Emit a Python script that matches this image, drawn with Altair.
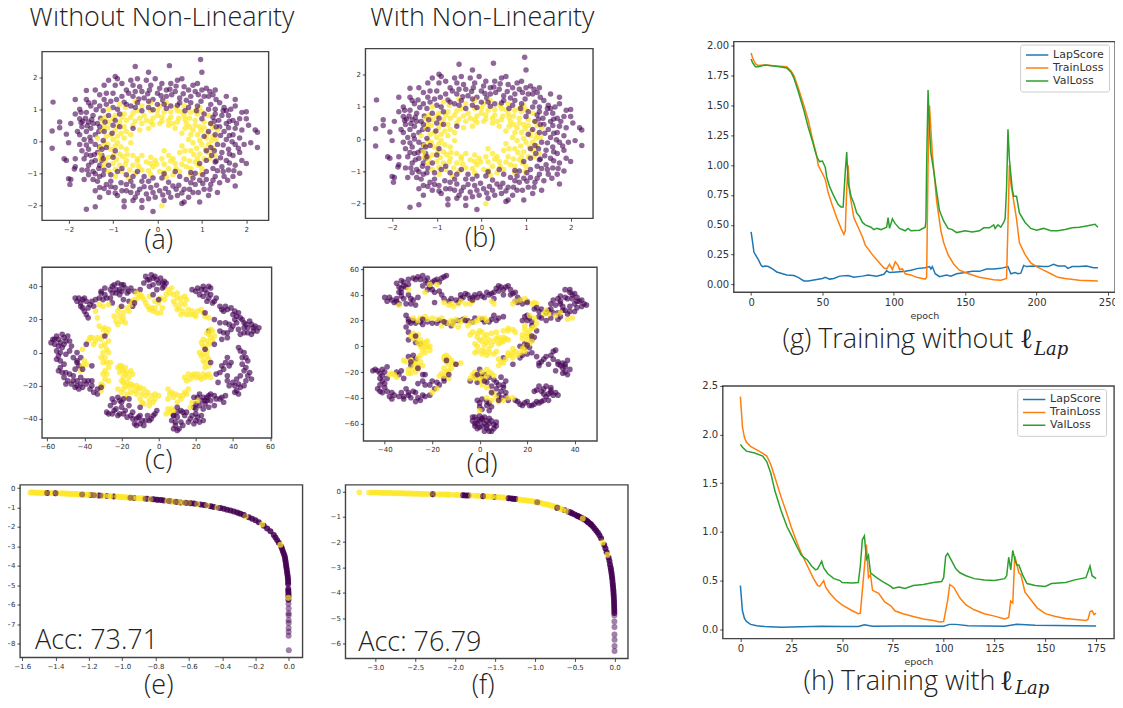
import altair as alt
import pandas as pd

PURPLE = "#440154"
YELLOW = "#fde725"
BLUE, ORANGE, GREEN = "#1f77b4", "#ff7f0e", "#2ca02c"
CAPTION_FONT = "Open Sans"

# ---------- (a)/(b) input data ----------
ab_purple = [(-2.35,1.22),(-2.2,.6),(-2.2,.42),(-2.37,.32),(-2.37,-.22),(-1.95,.55),(-2.05,.22),(-2,-.05),(-2.1,-.55),(-2.05,-.6),(-2,-1.17),(-1.95,-1.2),(-1.97,-1.35),(-1.85,-.8),(-1.87,-.87),(-1.85,-.55),(-1.6,-2.13),(-1.4,-2.05),(-1.3,-1.75),(-.75,-2.05),(-.35,-2.07),(-.1,-2.2),(.6,-1.9),(-.75,-1.87),(-.5,2.33),(-.2,2.15),(.27,2.36),(.97,2.55),(1,2.15),(2.25,-.2),(2.2,.35),(2.25,.28),(2.05,.5),(2,.7),(2,.92),(1.75,1.3),(1.55,1.4),(1.3,1.6),(1.9,.9),(-1.6,1.58),(-1.85,1.3),(-1.6,1.3),(-1.75,1),(-.95,2.02),(-1.1,1.9),(-1.2,1.75),
(-.9,1.95),(-.95,1.75),(-.8,1.8),(-.7,1.6),(-.6,1.9),(-.55,1.75),(-.45,1.95),(-.4,1.7),(-.35,1.55),(-.25,1.9),(-.15,1.75),(-.05,1.95),(.05,1.65),(0,1.5),(.1,1.8),(.2,1.6),(.3,1.8),(.4,1.55),(.45,1.9),(.55,1.95),(.6,1.7),(.7,1.6),(.8,1.75),(.85,1.55),(.9,1.8),(1,1.6),(1.1,1.65),(1.15,1.4),(1.25,1.45),(1.05,1.4),(.75,1.4),(.5,1.35),(.2,1.4),(-.1,1.3),(-.3,1.35),(-.55,1.4),(-.8,1.4),(-1,1.5),(-1.15,1.5),(-1.2,1.3),(-1.05,1.25),(-1.3,1.45),(-1.4,1.6),(-1.3,1.1),
(-1.85,.85),(-1.75,.7),(-1.6,.9),(-1.5,1.1),(-1.45,.8),(-1.55,.6),(-1.7,.45),(-1.6,.3),(-1.75,.2),(-1.5,.4),(-1.35,.55),(-1.4,.2),(-1.65,.05),(-1.5,0),(-1.75,-.1),(-1.4,-.1),(-1.55,-.25),(-1.7,-.3),(-1.35,-.35),(-1.5,-.45),(-1.65,-.55),(-1.4,-.6),(-1.55,-.75),(-1.3,-.75),(-1.45,-.95),(-1.7,-.9),(-1.2,-.9),(-1.55,-1.05),(-1.65,-1.2),(-1.3,-1.1),(-1.45,-1.2),
(-1.4,-1.55),(-1.3,-1.45),(-1.15,-1.35),(-1.1,-1.6),(-.95,-1.45),(-1.05,-1.25),(-.9,-1.7),(-.8,-1.55),(-.7,-1.35),(-.6,-1.6),(-.5,-1.75),(-.4,-1.5),(-.35,-1.85),(-.25,-1.65),(-.15,-1.45),(-.05,-1.75),(.05,-1.55),(.15,-1.85),(.25,-1.6),(.35,-1.4),(.45,-1.7),(.55,-1.95),(.6,-1.5),(.7,-1.75),(.8,-1.6),(.85,-1.35),(.95,-1.9),(1.05,-1.5),(1.15,-1.7),(1.2,-1.35),(1.35,-1.6),(1.4,-1.3),(1.5,-1.1),(1.3,-1.1),(1.1,-1.2),(1.25,-.85),(1.45,-.8),
(1.75,-1.4),(1.85,-1),(1.7,-1.1),(1.6,-.9),(1.75,-.75),(1.9,-.6),(2,-.7),(1.55,-.6),(1.7,-.45),(1.85,-.35),(1.95,-.1),(2.1,-.05),(1.6,-.25),(1.45,-.35),(1.75,-.1),(1.55,.05),(1.85,.1),(1.7,.2),(1.5,.3),(1.9,.35),(1.75,.4),(1.55,.55),(1.4,.45),(1.7,.65),(1.85,.7),(1.6,.8),(1.45,.8),(1.3,.85),(1.65,1),(1.5,1.05),(1.4,1.2),(1.3,1),(1.2,1.15),(1.75,1.1),
(-1.8,.3),(-1.72,.58),(-1.62,.72),(-1.48,.68),(-1.38,.98),(-1.22,.95),(-1.28,.72),(-1.15,1.15),(-1,1.05),(-.92,1.3),(-.75,1.22),(-.65,1.5),(-.5,1.55),(-.42,1.32),(-.22,1.48),(-.18,1.6),(.08,1.42),(.12,1.28),(.32,1.45),(.28,1.62),(.42,1.72),(.58,1.48),(.65,1.28),(.92,1.45),(.98,1.25),(1.18,1.55),(1.32,1.3),(1.48,.95),(1.55,.95),(1.62,.62),(1.38,.65),(1.28,.62),(1.6,.42),(1.78,.55),(1.62,.18),(1.42,.18),(1.68,-.02),(1.48,-.12),(1.82,-.22),(1.62,-.4),(1.42,-.52),(1.32,-.62),(1.62,-.68),(1.48,-.95),(1.35,-.92),(1.72,-.92),(1.58,-1.22),(1.25,-1.22),(1.18,-1.5),(1.02,-1.32),(.92,-1.6),(.95,-1.22),(.75,-1.3),(.72,-1.5),(.55,-1.62),(.48,-1.38),(.42,-1.5),(.3,-1.75),(.18,-1.48),(.12,-1.68),(-.02,-1.38),(-.1,-1.6),(-.2,-1.8),(-.3,-1.42),(-.45,-1.62),(-.55,-1.4),(-.55,-1.85),(-.7,-1.55),(-.82,-1.3),(-.95,-1.62),(-1.05,-1.42),(-1.2,-1.48),(-1.35,-1.25),(-1.22,-1.05),(-1.4,-1.02),(-1.58,-.9),(-1.32,-.85),(-1.48,-.65),(-1.25,-.6),(-1.6,-.42),(-1.42,-.42),(-1.25,-.45),(-1.6,-.12),(-1.3,-.18),(-1.52,.12),(-1.32,.3),(-1.58,.48),(-1.45,.55),(-1.68,.62),(-1.42,1.22),(-1.55,1.2),(-1.72,.9)]
ab_yellow = [(-1.35,.1),(-1.25,.65),(-1.1,.6),(-1.05,.2),(-.95,.35),(-.85,.6),(-.75,.85),(-.6,.75),(-.45,.95),(-.3,.8),(-.15,.95),(0,.8),(.15,.9),(.3,.75),(.45,.95),(.6,.8),(.75,.9),(.9,.85),(1.05,.6),(.95,.45),(1.2,.55),(1.25,.15),(1.1,.1),(.9,.2),(1,-.1),(.8,-.05),(1.15,-.35),(.95,-.4),(.75,-.3),(.6,-.55),(.85,-.65),(.65,-.8),(.4,-.7),(.5,-.95),(.25,-.85),(.1,-.55),(.05,-.95),(-.1,-.8),(-.25,-.65),(-.35,-.9),(-.55,-.75),(-.7,-.6),(-.85,-.75),(-1,-.7),(-.85,-.4),(-.7,-.25),(-1.05,-.25),(-.9,-.05),(-.75,.1),(-.6,.2),(-1.2,-.05),(-1.1,-.5),(-.55,.5),(-.35,.55),(-.15,.6),(.05,.55),(.25,.5),(.45,.6),(.65,.55),(.8,.35),(.55,.25),(.7,.05),(.55,-.15),(.5,-.35),(.25,-.45),(-.05,-.6),(.15,-.3),(-.35,-.45),(-.55,-.45),(-.6,-.05),(-.4,.35),(.1,.75),(-.2,.4),(.4,.4),(-.75,.45),(-.95,.8),(.85,.65),(.35,-1.05),(-.15,-1.05),(-.5,-1),(-.8,-.95),(-1.1,-.95),(.75,-1.05),(1,-.85),(1.3,-.45),(1.35,.35),(1.15,.8),(.95,1.05),(.6,1.1),(.2,1.2),(-.15,1.2),(-.5,1.25),(-.85,1.15),(-1.1,1),(-1.25,.35),(-1.3,-.4),(-1.2,-.75),(.1,-2.02),
(-1.2,.45),(-1.15,.15),(-1.28,-.2),(-1.12,-.1),(-1,.05),(-.95,-.15),(-.98,-.42),(-1.18,-.6),(-.92,-.58),(-.78,-.48),(-.72,-.72),(-.95,-.88),(-.62,-.9),(-.45,-.62),(-.42,-.78),(-.2,-.92),(-.15,-.7),(-.02,-.72),(.15,-.72),(.15,-.98),(.3,-.62),(.42,-.85),(.55,-.72),(.72,-.62),(.75,-.85),(.92,-.75),(1.05,-.55),(.9,-.55),(.82,-.42),(1.08,-.25),(.88,-.22),(.95,.02),(1.15,-.1),(1.22,.02),(1.12,.25),(.98,.32),(1.05,.42),(.85,.5),(.72,.45),(.72,.72),(.85,.95),(.62,.68),(.55,.92),(.48,.72),(.3,.92),(.25,.65),(.1,.62),(0,.95),(-.1,.72),(-.25,.65),(-.4,.72),(-.5,.62),(-.55,.88),(-.7,.65),(-.8,.75),(-.9,.48),(-1,.7),(-1.12,.42),(-1.18,.75),(-.82,.25),(-.7,.3),(-.9,.15),(-.82,-.18),(-.68,-.42),(.62,.4),(.35,.55),(-.1,.52),(.75,.2),(.62,-.3),(.35,-.55),(-.15,-.5),(-.45,-.55),(.42,1.05),(.05,1.08),(-.35,1.1),(-.72,1.05),(1,.92),(1.25,.42),(1.32,.05),(1.25,-.22),(1.18,-.55),(.98,-1.02),(.2,-1.12),(-.65,-1.15),(-.95,-1.1),(-1.28,-.55)]
ab_purple_top = [(-1.1,.8),(-1,.5),(-1.2,.3),(-1.15,-.2),(-1,-.5),(-.9,-.95),(-.7,-1.05),(-.3,-1.1),(.1,-1.15),(.5,-1.1),(.85,-1),(1.1,-.6),(1.2,-.2),(1.15,.3),(1,.7),(.7,1.05),(.3,1.1),(-.2,1.05),(-.6,1.1),(-.9,1),(-.55,.4),(-.45,1.2),(0,1.15),(.5,1.2),(.9,1.1),(1.25,.75),(1.3,.2),(1.28,-.3),(1.1,-.95),(.65,-1.2),(.25,-1.28),(-.2,-1.25),(-.6,-1.25),(-1.05,-1.05),(-1.25,-.25),(-1.3,.45),
(-1.18,.6),(-.85,.85),(-.7,1.15),(-.35,.95),(-.1,.98),(.2,1.02),(.45,1.12),(.62,.95),(.88,.95),(1.05,.85),(1.2,.55),(1.32,.45),(1.05,.15),(1.35,-.1),(1.1,-.3),(1.22,-.45),(.95,-.7),(1.02,-1.05),(.75,-.98),(.4,-.95),(.15,-1.02),(-.1,-1.15),(-.45,-.95),(-.55,-1.1),(-.8,-.85),(-1.1,-.75),(-1.22,-.55),(-.95,-.3),(-1.22,.02),(-1.02,.25),(-.85,.45),(-.95,.65),(-.5,1.05),(-.2,1.25),(.15,1.15),(.75,1.2),(1.15,1),(1.3,-.65),(.8,-1.15),(-.35,-1.25)]

# ---------- (c) ----------
c_purple = [(-57,8),(-55,10),(-52,11),(-49,10),(-56,5),(-53,6),(-50,7),(-47,4),(-55,1),(-52,3),(-54,-2),(-50,-1),(-53,-5),(-53,-9),(-52,-12),(-51,-15),(-49,-17),(-47,-19),(-45,-21),(-43,-22),(-41,-21),(-39,-19),(-37,-22),(-35,-24),(-44,0),(-42,-3),(-44,-5),(-45,-10),(-42,-15),(-40,-17),(-46,-14),(-48,-13),
(-43,33),(-44,31),(-41,32),(-42,28),(-39,31),(-37,29),(-40,25),(-39,23),(-38,21),(-35,28),(-32,33),(-31,36),(-28,33),(-31,37),(-29,39),(-23,38),(-24,41),(-22,42),(-20,41),(-18,39),(-23,36),(-21,35),(-19,32),(-16,31),(-14,28),(-15,39),(-13,37),(-25,30),
(-10,38),(-8,42),(-7,46),(-5,44),(-3,45),(-1,44),(1,45),(3,43),(-3,41),(-1,38),(2,39),(4,42),
(18,38),(21,39),(24,40),(27,40),(26,36),(22,35),(28,35),(31,33),(29,30),(26,31),(33,28),(36,28),(35,25),(39,27),(40,23),(42,22),(44,21),(46,18),(42,18),(46,15),(48,15),(50,17),(52,16),(54,15),(51,13),(48,12),(43,14),(44,11),(36,18),(40,16),(37,12),(37,9),(33,18),(34,8),(27,13),(30,20),
(43,3),(46,0),(47,-3),(45,-7),(47,-9),(49,-12),(50,-16),(46,-20),(43,-19),(42,-16),(40,-18),(44,-14),(42,-23),(43,-25),(35,-10),(33,-12),(38,-8),(36,-6),(32,-18),(37,-3),(38,-20),(37,-17),
(36,-26),(33,-28),(30,-26),(26,-27),(22,-25),(23,-29),(25,-31),(27,-33),(30,-32),(20,-31),(35,-30),(24,-34),(20,-34),
(21,-39),(22,-42),(20,-37),(19,-43),(24,-41),(17,-40),(15,-36),(12,-35),(10,-39),(7,-41),(9,-44),(11,-46),(10,-47),(12,-42),(14,-38),
(-28,-36),(-25,-37),(-22,-38),(-19,-37),(-15,-38),(-12,-40),(-13,-43),(-10,-43),(-8,-44),(-5,-41),(-6,-38),(-3,-38),(-1,-35),(-18,-35),(-23,-34),(-24,-30),(-25,-28),(-22,-27),(-20,-30),(-16,-32),(-10,-38),
(-56,8),(-54,8),(-51,9),(-48,7),(-58,6),(-54,4),(-51,5),(-48,1),(-53,0),(-55,-4),(-51,-7),(-54,-11),(-50,-12),(-50,-19),(-46,-17),(-44,-17),(-44,-20),(-42,-19),(-38,-17),(-36,-20),(-33,-25),(-43,-8),(-46,-3),
(-45,33),(-42,30),(-40,33),(-38,27),(-41,27),(-36,31),(-34,32),(-30,32),(-29,35),(-26,38),(-25,36),(-25,40),(-21,38),(-20,37),(-17,36),(-19,41),(-16,37),
(-6,44),(-4,47),(-2,46),(0,42),(2,42),(3,40),(-5,40),
(20,37),(23,38),(25,38),(28,39),(24,34),(27,33),(30,31),(34,26),(37,26),(41,25),(43,24),(45,20),(47,17),(49,19),(51,15),(53,13),(50,11),(46,12),(41,20),(39,14),(35,12),(38,17),
(44,1),(45,-3),(48,-5),(46,-11),(48,-14),(47,-17),(44,-21),(41,-20),(41,-24),(37,-14),(34,-8),(31,-13),(39,-6),
(34,-27),(31,-28),(28,-29),(24,-27),(21,-27),(22,-32),(26,-29),(19,-33),(28,-25),
(20,-41),(23,-38),(18,-38),(16,-42),(13,-36),(10,-36),(8,-38),(9,-42),(13,-44),(8,-46),
(-27,-37),(-24,-35),(-21,-37),(-17,-39),(-14,-36),(-11,-39),(-12,-44),(-9,-41),(-7,-41),(-4,-40),(-2,-37),(-20,-33),(-26,-32),(-21,-29),(-14,-40)]
c_yellow = [(-32,16),(-29,15),(-28,12),(-31,8),(-29,5),(-28,2),(-30,0),(-29,-3),(-28,-6),(-27,-9),(-28,-13),(-29,-16),(-30,-20),(-31,-23),(-38,7),(-36,9),(-33,9),(-35,5),(-41,-8),(-40,-5),(-42,-11),(-41,2),
(-22,-9),(-20,-8),(-18,-9),(-21,-12),(-17,-12),(-15,-11),(-19,-15),(-16,-15),(-20,-17),(-18,-20),(-16,-21),(-14,-20),(-12,-20),(-10,-21),(-8,-22),(-15,-24),(-12,-25),(-9,-25),(-6,-24),(-4,-26),(-2,-25),(0,-26),(-10,-28),(-8,-31),(-5,-32),(-3,-30),(-22,-22),(-20,-24),(-18,-27),
(5,-22),(7,-24),(8,-27),(5,-28),(10,-30),(12,-28),(14,-24),(16,-22),(6,-36),(4,-37),(8,-35),
(14,-15),(16,-13),(18,-14),(20,-15),(22,-15),(24,-13),(26,-14),(28,-15),(25,-6),(27,-4),(24,-1),(26,1),(24,4),(23,6),(26,7),(28,9),(30,10),(26,12),(28,14),(27,-8),(23,-2),(18,-30),(21,-29),(17,-33),
(-22,25),(-21,22),(-20,19),(-22,17),(-24,22),(-19,24),(-17,27),(-15,29),(-13,32),(-11,33),(-8,32),(-5,34),(-6,28),(-4,27),(-3,25),(-1,24),(1,24),(2,27),(0,30),(3,32),(5,38),(7,39),(8,35),(10,33),(12,33),(9,29),(11,27),(14,29),(13,25),(15,23),(17,23),(19,23),(21,25),(23,26),(25,22),(27,21),(15,32),(-34,25),(-30,28),(-27,29),(-10,35),(-33,21),
(-30,14),(-27,14),(-30,10),(-27,7),(-31,4),(-27,0),(-31,-3),(-30,-6),(-26,-6),(-29,-11),(-30,-13),(-27,-17),(-31,-19),(-37,9),(-34,7),(-39,-7),
(-21,-8),(-19,-11),(-20,-10),(-18,-13),(-14,-13),(-17,-18),(-19,-18),(-15,-19),(-11,-22),(-13,-23),(-7,-26),(-5,-29),(-9,-30),(-2,-28),(-17,-25),(-19,-22),
(6,-25),(9,-25),(11,-26),(13,-26),(15,-25),(7,-34),(5,-34),
(15,-17),(17,-16),(19,-13),(21,-13),(23,-16),(25,-15),(27,-13),(24,-5),(26,-2),(25,3),(22,0),(27,5),(24,8),(29,7),(27,11),(29,13),(25,-9),
(-21,27),(-23,19),(-19,21),(-18,18),(-16,25),(-14,31),(-9,34),(-7,30),(-5,26),(-2,27),(-2,31),(1,33),(4,35),(6,36),(10,36),(8,31),(12,30),(10,26),(12,23),(16,26),(18,25),(20,22),(24,24),(14,34),(-32,29),(-12,36)]
c_purple_top = [(-44,-6),(-41,-10),(-36,-17),(-33,-22),(-31,-21),(-29,10),(-39,5),(-26,33),(-20,28),(-13,30),(-3,35),(0,32),(-19,-28),(-10,-33),(-16,-28),(25,-29),(27,-26),(19,-27),(10,-33),(8,-38),(25,2),(28,-6),(30,5),(33,13),(25,24),(-36,-8)]

# ---------- (d) ----------
d_purple = [(-40,38),(-38,38),(-39,35),(-36,34),(-34,33),(-35,37),(-34,42),(-33,45),(-35,49),(-32,50),(-30,52),(-31,46),(-33,39),(-30,40),(-31,33),(-28,36),(-27,32),(-26,38),(-26,54),(-24,55),(-22,53),(-20,50),(-21,46),(-18,52),(-16,53),(-14,55),(-22,44),(-19,42),(-16,40),(-27,52),
(-15,37),(-13,35),(-9,34),(-7,38),(-5,40),(-4,37),(-2,40),(0,41),(-8,40),(2,38),(4,40),(6,37),(6,42),(7,45),(9,46),(11,46),(13,44),(15,42),(13,40),(16,38),(10,40),(16,34),(20,35),(18,33),
(23,29),(26,29),(29,28),(31,26),(33,26),(31,36),(34,35),(32,32),(35,31),(36,38),(36,44),(38,42),(37,37),(39,40),(41,38),(42,35),(44,33),(43,31),(40,33),(38,31),(37,25),(35,28),(40,27),(33,21),(28,20),(25,23),(20,24),(18,20),
(-31,24),(-30,21),(-29,18),(-27,18),(-24,17),(-31,15),(-30,11),(-22,19),(-20,18),(-17,20),(-14,18),(-12,16),(-9,20),(-5,20),(-2,22),(1,21),(4,19),(7,20),(8,22),(6,24),
(-30,5),(-27,3),(-25,2),(-30,-8),(-28,-7),(-27,-10),(-29,-15),(-24,-22),
(20,-6),(17,-9),(24,-8),(25,-13),(25,-15),(27,-10),(30,-7),(32,-3),(29,-14),(33,-12),(34,-15),(35,-17),(36,-14),(37,-11),(36,-20),(37,-22),(32,-19),(20,20),(22,19),(24,12),(23,7),(19,2),(17,0),(21,-1),(14,-14),(10,-9),
(-45,-19),(-43,-19),(-41,-18),(-39,-16),(-41,-23),(-39,-25),(-41,-27),(-42,-30),(-40,-32),(-42,-35),(-39,-35),(-38,-39),(-36,-38),(-33,-36),(-30,-38),(-31,-33),(-28,-35),(-29,-40),(-26,-40),(-27,-36),(-25,-42),(-23,-39),(-21,-38),(-34,-22),(-32,-25),(-33,-19),(-24,-27),(-21,-30),(-18,-28),(-15,-27),(-15,-25),(-19,-33),
(-4,-27),(-2,-23),(0,-18),(2,-22),(3,-28),(5,-31),(6,-26),(9,-24),(8,-30),(11,-27),(9,-35),(8,-38),(11,-36),(12,-42),(11,-39),(-1,-42),(1,-41),(0,-47),(3,-46),(4,-44),(4,-50),
(-2,-55),(0,-54),(2,-55),(4,-56),(-3,-58),(-1,-60),(2,-60),(5,-58),(6,-61),(0,-63),(3,-64),(5,-66),(-2,-62),(6,-64),(1,-57),(3,-62),
(15,-42),(17,-45),(19,-44),(21,-46),(23,-45),(25,-44),(27,-42),(29,-42),(31,-38),(33,-38),(29,-37),(27,-33),(25,-31),(23,-35),(26,-35),(28,-31),(30,-34),
(-37,36),(-35,35),(-32,37),(-33,42),(-32,47),(-34,46),(-30,48),(-33,51),(-28,53),(-25,52),(-23,51),(-22,49),(-24,47),(-19,51),(-17,50),(-15,54),(-20,44),(-17,43),(-29,37),(-29,33),
(-12,37),(-8,37),(-6,41),(-3,38),(-1,38),(1,39),(3,42),(5,41),(8,43),(8,47),(12,47),(10,44),(14,41),(17,36),(15,35),
(25,27),(28,26),(30,29),(34,33),(30,33),(33,37),(34,39),(38,44),(39,37),(40,41),(41,35),(43,36),(45,32),(41,30),(36,28),(38,27),(34,23),(30,22),(21,22),(19,23),
(-30,19),(-28,20),(-25,19),(-18,18),(-11,19),(-7,21),(-3,19),(2,19),(5,21),(10,23),
(18,-7),(22,-5),(26,-12),(31,-10),(31,-4),(33,-14),(35,-13),(35,-21),(38,-18),(36,-16),(22,16),(22,5),(19,-1),
(-44,-18),(-42,-21),(-40,-20),(-42,-25),(-40,-29),(-43,-33),(-41,-36),(-37,-36),(-37,-41),(-34,-39),(-32,-39),(-30,-36),(-32,-41),(-27,-43),(-24,-38),(-35,-20),(-26,-29),(-23,-30),(-20,-27),(-17,-30),
(-1,-28),(1,-23),(4,-24),(7,-28),(7,-33),(10,-32),(9,-40),(0,-44),(3,-43),(1,-49),(5,-47),
(-1,-57),(1,-56),(3,-58),(-3,-55),(-2,-60),(0,-58),(4,-60),(1,-62),(7,-59),(4,-66),(2,-66),(7,-62),(-1,-64),
(16,-43),(18,-46),(20,-43),(22,-46),(24,-43),(26,-43),(28,-39),(30,-36),(32,-36),(24,-34),(30,-32),(27,-37)]
d_yellow = [(-28,10),(-27,7),(-25,5),(-26,9),(-24,2),(-22,4),(-23,-1),(-21,-3),(-23,-5),(-25,-7),(-22,0),(-32,-11),(-29,-11),(-27,-13),(-25,-12),(-24,-15),(-28,-17),(-27,-20),(-29,-21),(-35,-24),(-37,-21),(-30,-18),(-38,-22),
(-14,-7),(-13,-9),(-14,-12),(-13,-14),(-12,-17),(-11,-13),(-8,-13),(-14,-20),(-15,-23),(-17,-23),(-13,-25),(-20,-36),(-18,-33),
(-28,22),(-25,22),(-22,21),(-18,21),(-15,19),(-12,20),(-10,21),(-7,20),(-4,18),(-2,19),(0,22),(3,20),(-16,16),(-9,15),
(-3,11),(-1,10),(1,11),(3,9),(-1,7),(1,4),(3,3),(-2,2),(5,1),(2,-4),(4,-5),(6,-6),(7,6),(9,5),(11,6),(8,2),(10,4),(5,10),(10,12),(12,12),(14,13),(-1,-4),(1,-6),
(19,13),(20,10),(22,8),(20,5),(21,2),(18,9),(23,15),(24,18),
(15,-4),(13,-7),(11,-10),(9,-12),(8,-15),(16,-7),(14,-2),(19,-4),(12,-5),
(-2,-25),(0,-25),(2,-25),(4,-20),(6,-23),(-3,-22),(3,-18),(1,-30),(5,-35),(7,-40),(5,-42),(10,-42),(3,-40),(14,-40),(-15,34),(-13,32),(-11,31),(-8,35),(-6,33),(-3,35),(6,33),(14,33),(17,36),(20,35),(22,33),(24,33),(28,28),(32,24),(39,22),(27,25),(23,22),(21,24),(0,-50),(-18,48),(-21,48),(-23,42),(-30,44),(-34,32),
(-29,8),(-28,6),(-26,3),(-25,0),(-23,3),(-24,-3),(-21,0),(-26,-9),(-31,-12),(-28,-13),(-26,-15),(-26,-18),(-30,-21),(-36,-22),
(-15,-8),(-12,-11),(-15,-10),(-13,-19),(-15,-17),(-16,-21),(-10,-14),
(-26,20),(-23,23),(-20,22),(-16,22),(-13,18),(-8,19),(-6,22),(-1,20),(2,22),(-11,17),(-5,16),
(-4,9),(0,12),(2,7),(0,5),(4,5),(-1,0),(2,1),(4,-2),(3,-7),(7,-4),(6,4),(8,7),(10,7),(9,3),(12,5),(7,11),(-2,-5),(1,-3),(12,14),(15,11),
(20,8),(18,6),(22,4),(19,0),(21,12),(19,16),(22,14),
(17,-5),(14,-9),(10,-13),(12,-7),(14,-5),(8,-10),(18,-2),
(-1,-24),(1,-27),(3,-23),(5,-21),(-2,-20),(1,-20),(-4,-25),(3,-32),(6,-37),(8,-43),(12,-40),(-12,33),(-9,33),(-4,33),(5,35),(15,35),(19,37),(23,34),(29,25),(34,26),(37,21)]
d_purple_top = [(-27,8),(-29,-12),(-26,-17),(-23,-22),(-13,-22),(-14,-11),(-10,-14),(-24,21),(-15,19),(-6,20),(-1,-22),(2,-27),(5,-36),(8,-42),(10,-30),(20,34),(24,30),(22,8),(20,1),(-3,36),(-10,36),(28,-8),(26,22),(-19,34)]

# ---------- (e) ----------
e_yellow = [(-1.55,-.23),(-1.53,-.23),(-1.51,-.24),(-1.49,-.24),(-1.47,-.25),(-1.43,-.26),(-1.37,-.27),(-1.35,-.28),(-1.33,-.29),(-1.31,-.3),(-1.29,-.31),(-1.27,-.32),(-1.25,-.33),(-1.23,-.34),(-1.21,-.35),(-1.17,-.37),(-1.11,-.39),(-1.07,-.42),(-1.03,-.44),(-1.01,-.46),(-.99,-.47),(-.97,-.48),(-.95,-.5),(-.91,-.52),(-.87,-.54),(-.83,-.57),(-.73,-.66),(-.69,-.7),(-.63,-.75),(-.55,-.82),(-.49,-.9),(-.43,-1.0),(-.26,-1.45),(-.16,-1.88),(-.05,-2.92),(-.003,-5.65),
(-1.54,-.23),(-1.52,-.24),(-1.5,-.24),(-1.48,-.25),(-1.46,-.25),(-1.42,-.26),(-1.39,-.27),(-1.36,-.28),(-1.34,-.28),(-1.32,-.29),(-1.3,-.3),(-1.28,-.31),(-1.26,-.32),(-1.24,-.33),(-1.22,-.34),(-1.2,-.35),(-1.16,-.37),(-1.12,-.39),(-1.08,-.41),(-1.02,-.45),(-1,-.46),(-.98,-.47),(-.96,-.49),(-.94,-.5),(-.9,-.52),(-.88,-.53),(-.72,-.67),(-.7,-.69),(-.66,-.72),(-.6,-.77)]
e_purple = [(-1.45,-.26),(-1.4,-.27),(-1.19,-.36),(-1.14,-.38),(-1.09,-.41),(-1.05,-.43),(-.93,-.51),(-.85,-.55),(-.81,-.58),(-.79,-.6),(-.77,-.62),(-.75,-.64),(-.71,-.68),(-.67,-.72),(-.65,-.74),(-.61,-.77),(-.59,-.78),(-.57,-.8),(-.53,-.84),(-.51,-.87),(-.47,-.93),(-.45,-.97),(-.41,-1.03),(-.39,-1.07),(-.37,-1.12),(-.35,-1.16),(-.33,-1.21),(-.31,-1.26),(-.29,-1.32),(-.27,-1.38),(-.24,-1.5),(-.22,-1.58),(-.2,-1.66),(-.18,-1.76),(-.15,-1.94),(-.13,-2.08),(-.11,-2.22),(-.09,-2.42),(-.08,-2.54),(-.07,-2.68),(-.06,-2.82),(-.045,-3.02),(-.04,-3.14),(-.035,-3.26),(-.03,-3.38),(-.025,-3.5),(-.022,-3.62),(-.02,-3.74),(-.018,-3.86),(-.016,-3.98),(-.014,-4.1),(-.012,-4.22),(-.01,-4.34),(-.008,-4.46),(-.006,-4.58),(-.005,-4.7),(-.004,-4.82),(-.004,-4.94),(-.003,-5.2),(-.003,-5.3),(-.002,-5.4),(-.002,-5.5),(-.002,-5.6),(-.002,-5.75)]
e_tail = [(-.002,-5.95),(-.001,-6.2),(-.001,-6.45),(-.001,-6.55),(-.001,-6.8),(-.001,-6.95),(-.001,-7.2),(-.001,-7.4),(-.001,-7.6),(0,-8.35)]
e_purple_top = [(-1.45,-.26),(-1.4,-.27),(-1.24,-.33),(-1.17,-.37),(-1.13,-.38),(-.95,-.5),(-.86,-.55),(-.82,-.58),(-.79,-.6),(-.76,-.62),(-.72,-.67),(-.68,-.7),(-.62,-.76),(-.59,-.78),(-.56,-.81),(-.5,-.88),(-.46,-.95),(-.42,-1.02),(-.3,-1.3),(-.27,-1.4)]

# ---------- (f) ----------
f_yellow = [(-3.2,-.04),(-3.05,-.05),(-3.0,-.05),(-2.95,-.05),(-2.9,-.06),(-2.85,-.06),(-2.8,-.06),(-2.75,-.07),(-2.7,-.07),(-2.65,-.07),(-2.6,-.08),(-2.55,-.08),(-2.5,-.09),(-2.45,-.09),(-2.4,-.1),(-2.35,-.1),(-2.2,-.11),(-2.15,-.12),(-2.1,-.12),(-2.05,-.13),(-2,-.14),(-1.95,-.14),(-1.75,-.17),(-1.7,-.18),(-1.6,-.2),(-1.55,-.21),(-1.47,-.23),(-1.43,-.24),(-1.38,-.25),(-1.2,-.32),(-1.15,-.34),(-1.1,-.36),(-1.05,-.38),(-1,-.41),(-.95,-.44),(-.9,-.48),(-.85,-.52),(-.8,-.56),(-.75,-.6),(-.68,-.7),(-.6,-.78),(-.4,-1.07),(-.15,-2.02),(-.09,-2.5),
(-3.08,-.05),(-3.03,-.05),(-2.98,-.05),(-2.93,-.06),(-2.88,-.06),(-2.83,-.06),(-2.78,-.07),(-2.73,-.07),(-2.68,-.07),(-2.63,-.08),(-2.58,-.08),(-2.53,-.09),(-2.48,-.09),(-2.43,-.1),(-2.38,-.1),(-2.32,-.1),(-2.25,-.11),(-2.18,-.12),(-2.12,-.12),(-2.08,-.13),(-1.98,-.14),(-1.8,-.16),(-1.72,-.17),(-1.62,-.19),(-1.58,-.2),(-1.53,-.21),(-1.45,-.23),(-1.4,-.24),(-1.18,-.33),(-1.13,-.35),(-1.08,-.37),(-1.03,-.39),(-.98,-.42),(-.93,-.46),(-.88,-.5),(-.83,-.53),(-.78,-.58),(-.7,-.66),(-.65,-.72)]
f_purple = [(-2.28,-.11),(-1.9,-.15),(-1.87,-.16),(-1.83,-.16),(-1.65,-.19),(-1.51,-.22),(-1.33,-.27),(-1.3,-.28),(-1.27,-.29),(-1.24,-.3),(-.72,-.65),(-.63,-.74),(-.58,-.8),(-.55,-.83),(-.53,-.87),(-.5,-.91),(-.47,-.96),(-.45,-.99),(-.43,-1.02),(-.41,-1.05),(-.39,-1.09),(-.37,-1.12),(-.35,-1.16),(-.34,-1.2),(-.33,-1.22),(-.31,-1.27),(-.3,-1.3),(-.29,-1.33),(-.27,-1.4),(-.25,-1.47),(-.23,-1.55),(-.21,-1.63),(-.19,-1.73),(-.17,-1.85),(-.13,-2.12),(-.115,-2.25),(-.1,-2.4),(-.075,-2.62),(-.065,-2.75),(-.058,-2.88),(-.05,-3.0),(-.045,-3.1),(-.04,-3.2),(-.036,-3.3),(-.032,-3.4),(-.028,-3.5),(-.025,-3.6),(-.022,-3.7),(-.019,-3.8),(-.016,-3.9),(-.014,-4.0),(-.012,-4.1),(-.01,-4.2),(-.008,-4.3),(-.007,-4.4),(-.006,-4.5),(-.005,-4.6),(-.004,-4.7),(-.004,-4.8)]
f_tail = [(-.003,-4.9),(-.003,-5.13),(-.002,-5.35),(-.002,-5.65),(-.001,-5.85),(-.001,-6.1),(-.001,-6.3)]
f_purple_top = [(-2.28,-.11),(-1.9,-.15),(-1.85,-.16),(-1.65,-.19),(-1.33,-.27),(-1.28,-.29),(-1.25,-.3),(-.97,-.43),(-.72,-.65),(-.55,-.83),(-.47,-.96)]

# ---------- (g) ----------
g_lap = [(0,.44),(1,.36),(2,.27),(3,.25),(4,.23),(5,.21),(7,.16),(8,.15),(10,.155),(12,.15),(15,.13),(18,.105),(22,.09),(25,.08),(30,.075),(33,.06),(37,.03),(40,.03),(45,.04),(50,.05),(52,.06),(55,.045),(58,.05),(62,.07),(68,.075),(72,.06),(78,.07),(82,.08),(88,.07),(93,.085),(95,.115),(97,.1),(102,.105),(108,.11),(112,.12),(117,.135),(122,.14),(125,.15),(126,.13),(127,.15),(129,.09),(132,.065),(137,.08),(140,.07),(144,.09),(150,.1),(155,.11),(160,.11),(165,.13),(170,.13),(175,.135),(180,.15),(182,.09),(185,.1),(187,.09),(189,.095),(191,.16),(193,.15),(198,.155),(205,.15),(208,.15),(212,.17),(215,.155),(220,.155),(222,.135),(225,.15),(230,.15),(235,.155),(240,.14),(243,.14)]
g_train = [(0,1.94),(1,1.9),(3,1.85),(5,1.835),(10,1.84),(20,1.83),(25,1.825),(28,1.79),(30,1.75),(33,1.65),(37,1.5),(40,1.38),(43,1.22),(46,1.08),(47,1.0),(50,.93),(52,.88),(54,.77),(57,.66),(60,.56),(63,.47),(65,.42),(66,.45),(67,.8),(68,1.0),(69,.78),(70,.7),(72,.56),(75,.48),(78,.4),(80,.33),(85,.25),(90,.18),(93,.14),(95,.13),(97,.17),(99,.125),(101,.19),(103,.16),(104,.125),(106,.13),(108,.09),(112,.08),(116,.06),(120,.05),(122,.045),(123,.06),(124,1.0),(125,1.5),(127,1.1),(130,.7),(133,.45),(135,.35),(138,.25),(142,.17),(146,.12),(150,.1),(155,.08),(160,.06),(165,.05),(170,.04),(175,.035),(179,.05),(180,.5),(181,1.0),(182,.85),(184,.7),(186,.55),(188,.35),(192,.25),(196,.18),(200,.15),(205,.12),(210,.09),(215,.06),(220,.05),(230,.035),(243,.03)]
g_val = [(0,1.89),(1,1.86),(3,1.825),(5,1.825),(10,1.84),(20,1.825),(25,1.815),(28,1.78),(30,1.73),(33,1.62),(37,1.46),(40,1.32),(43,1.2),(46,1.07),(48,1.03),(50,1.035),(52,.98),(53,.9),(55,.82),(58,.74),(61,.67),(63,.65),(64.5,.65),(66,.95),(67,1.11),(68,.85),(69,.8),(70,.74),(72,.68),(74,.6),(76,.57),(78,.52),(80,.5),(84,.48),(86,.46),(88,.47),(91,.46),(95,.48),(96,.56),(97,.47),(99,.55),(101,.51),(104,.47),(108,.45),(110,.47),(112,.45),(118,.455),(122,.48),(122.5,.53),(123,1.0),(124,1.63),(125,1.3),(126,1.1),(128,.95),(130,.78),(132,.62),(135,.53),(138,.47),(141,.46),(144,.435),(150,.45),(155,.44),(160,.45),(163,.475),(167,.475),(170,.5),(171,.47),(173,.5),(175,.48),(177,.52),(178,.55),(179,.8),(180,1.3),(181,1.05),(183,.8),(184,.74),(186,.74),(188,.6),(192,.52),(196,.47),(200,.455),(205,.47),(210,.45),(215,.45),(220,.46),(225,.475),(230,.48),(235,.49),(241,.505),(243,.48)]

# ---------- (h) ----------
h_lap = [(0,.45),(1,.19),(2,.11),(3,.08),(5,.05),(8,.035),(12,.027),(20,.02),(30,.025),(40,.03),(50,.027),(58,.028),(61,.045),(65,.032),(80,.033),(100,.03),(103,.05),(106,.05),(112,.037),(130,.03),(136,.05),(145,.04),(165,.036),(175,.033)]
h_train = [(0,2.39),(1,2.08),(2,1.97),(3,1.92),(5,1.88),(10,1.82),(13,1.78),(15,1.69),(17,1.56),(20,1.36),(23,1.18),(25,1.05),(28,.88),(30,.78),(33,.65),(36,.52),(38,.45),(39,.44),(41,.5),(42,.43),(44,.37),(47,.3),(50,.25),(55,.19),(58,.16),(59,.165),(60,.4),(62,.87),(63,.53),(64,.56),(65,.4),(68,.37),(71,.28),(74,.24),(76,.19),(80,.16),(85,.13),(90,.105),(95,.09),(98,.075),(100,.08),(102,.3),(103,.46),(105,.43),(108,.32),(111,.25),(115,.2),(120,.16),(125,.135),(130,.105),(132,.12),(133,.29),(134,.27),(135,.75),(137,.58),(138,.56),(140,.38),(143,.3),(146,.22),(150,.16),(155,.13),(160,.11),(165,.1),(170,.09),(171,.1),(172,.18),(173,.19),(174,.15),(175,.165)]
h_val = [(0,1.9),(1,1.87),(3,1.83),(7,1.81),(11,1.78),(13,1.72),(15,1.6),(17,1.42),(20,1.22),(23,1.05),(25,.97),(28,.84),(30,.76),(33,.71),(35,.65),(37,.61),(38,.62),(40,.7),(41,.63),(43,.57),(46,.52),(49,.5),(50,.48),(55,.475),(58,.48),(59,.65),(60,.92),(61,.96),(62,.72),(63,.76),(64,.58),(67,.53),(70,.49),(74,.44),(75,.42),(78,.435),(81,.42),(85,.45),(90,.46),(95,.48),(99,.49),(100,.53),(101,.75),(102,.78),(104,.7),(106,.62),(108,.58),(111,.55),(115,.52),(120,.505),(125,.5),(130,.52),(131,.55),(132,.74),(133,.61),(134,.81),(135,.72),(136,.66),(137,.66),(139,.55),(141,.47),(145,.45),(150,.44),(153,.47),(160,.48),(165,.51),(170,.53),(172,.65),(173,.55),(175,.52)]


def frame(*groups):
    rows = []
    for g in groups:
        pts, label = g[0], g[1]
        alpha = g[2] if len(g) > 2 else .6
        rows += [{"x": p[0], "y": p[1], "c": label, "o": alpha} for p in pts]
    return pd.DataFrame(rows)


def text(label, x, y, size, font=CAPTION_FONT, weight=300, style="normal", align="left", color="#222222"):
    return alt.Chart(pd.DataFrame({"t": [label]})).mark_text(
        font=font, fontSize=size, fontWeight=weight, fontStyle=style, align=align,
        baseline="alphabetic", color=color, clip=False,
    ).encode(x=alt.value(x), y=alt.value(y), text="t:N")


def axis(vals=None, size=7, fmt=None, title=None):
    kw = dict(grid=False, labelFont="DejaVu Sans", labelFontSize=size, labelColor="#333333",
              tickSize=3, tickWidth=.8, tickColor="#222222", domain=False, labelPadding=2, title=title,
              titleFont="DejaVu Sans", titleFontSize=9.5, titleFontWeight="normal", titleColor="#333333", titlePadding=3.5)
    if vals is not None:
        kw["values"] = vals
    if fmt:
        kw["format"] = fmt
    return alt.Axis(**kw)


VIEW = alt.ViewBackground(stroke="#444444", strokeWidth=1.4)


def scatter(df, xdom, ydom, xvals, yvals, w, h, texts=(), xfmt=None, yfmt=None, dot=30):
    pts = alt.Chart(df).mark_circle(size=dot, strokeWidth=0).encode(
        x=alt.X("x:Q", scale=alt.Scale(domain=xdom, nice=False, zero=False), axis=axis(xvals, fmt=xfmt)),
        y=alt.Y("y:Q", scale=alt.Scale(domain=ydom, nice=False, zero=False), axis=axis(yvals, fmt=yfmt)),
        color=alt.Color("c:N", scale=None),
        opacity=alt.Opacity("o:Q", scale=None),
    )
    return alt.layer(pts, *texts).properties(width=w, height=h, view=VIEW)


def curves(lap, train, val, xdom, ydom, xvals, yvals, w, h, yfmt, lx, ly, texts=()):
    df = frame((lap, "LapScore"), (train, "TrainLoss"), (val, "ValLoss"))
    lines = alt.Chart(df).mark_line(strokeWidth=1.5).encode(
        x=alt.X("x:Q", scale=alt.Scale(domain=xdom, nice=False, zero=False), axis=axis(xvals, size=10, title="epoch")),
        y=alt.Y("y:Q", scale=alt.Scale(domain=ydom, nice=False, zero=False), axis=axis(yvals, size=10, fmt=yfmt)),
        color=alt.Color("c:N", scale=alt.Scale(domain=["LapScore", "TrainLoss", "ValLoss"], range=[BLUE, ORANGE, GREEN]),
                        legend=alt.Legend(title=None, orient="none", legendX=lx, legendY=ly, fillColor="white",
                                          strokeColor="#cccccc", cornerRadius=2, padding=5, labelFont="DejaVu Sans",
                                          labelFontSize=11, labelColor="#333333", symbolType="stroke", symbolSize=500,
                                          symbolStrokeWidth=1.5, clipHeight=11, rowPadding=1)),
    )
    return alt.layer(lines, *texts).properties(width=w, height=h, view=VIEW)


def spacer(w, h):
    return alt.Chart(pd.DataFrame({"a": [0]})).mark_point(opacity=0, size=1, strokeWidth=0).encode(
        x=alt.value(0), y=alt.value(0)
    ).properties(width=w, height=h, view=alt.ViewBackground(stroke="transparent"))


def row(left, panel):
    return alt.hconcat(spacer(left, 1), panel, spacing=0).resolve_scale(color="independent")


def stack(*items):
    return alt.vconcat(*items, spacing=0).resolve_scale(color="independent")


ab_df = frame((ab_purple, PURPLE), (ab_yellow, YELLOW, .72), (ab_purple_top, PURPLE))
ab_x = [-2, -1, 0, 1, 2]
ab_y = [-2, -1, 0, 1, 2]

panel_a = scatter(ab_df, [-2.6, 2.5], [-2.47, 2.8], ab_x, ab_y, 227, 169, texts=[
    text("Without Non-Linearity", 120, -26, 27, align="center"), text("(a)", 117, 198, 27, align="center")])
panel_b = scatter(ab_df, [-2.6, 2.5], [-2.47, 2.82], ab_x, ab_y, 228, 170, texts=[
    text("With Non-Linearity", 117, -23, 27, align="center"), text("(b)", 115, 199, 27, align="center")])
panel_c = scatter(frame((c_purple, PURPLE, .65), (c_yellow, YELLOW, .72), (c_purple_top, PURPLE, .65)), [-62.9, 60.8], [-51.5, 51.6],
                  [-60, -40, -20, 0, 20, 40, 60], [-40, -20, 0, 20, 40], 230, 171,
                  texts=[text("(c)", 117, 202, 27, align="center")], dot=32)
panel_d = scatter(frame((d_purple, PURPLE, .65), (d_yellow, YELLOW, .72), (d_purple_top, PURPLE, .65)), [-49, 49.4], [-73.5, 61.5],
                  [-40, -20, 0, 20, 40], [-60, -40, -20, 0, 20, 40, 60], 234, 174,
                  texts=[text("(d)", 119, 206, 27, align="center")], dot=32)
panel_e = scatter(frame((e_purple, PURPLE, .85), (e_tail, PURPLE, .5), (e_yellow, YELLOW, .7), (e_purple_top, PURPLE, .45)),
                  [-1.613, .082], [-8.72, .17],
                  [-1.6, -1.4, -1.2, -1, -.8, -.6, -.4, -.2, 0], [-8, -7, -6, -5, -4, -3, -2, -1, 0], 283, 173,
                  xfmt=".1f", yfmt="d", dot=36, texts=[text("Acc: 73.71", 15, 165, 27),
                                                       text("(e)", 139, 210, 27, align="center")])
panel_f = scatter(frame((f_purple, PURPLE, .85), (f_tail, PURPLE, .5), (f_yellow, YELLOW, .7), (f_purple_top, PURPLE, .45)),
                  [-3.375, .166], [-6.59, .26],
                  [-3, -2.5, -2, -1.5, -1, -.5, 0], [-6, -5, -4, -3, -2, -1, 0], 283, 174,
                  xfmt=".1f", yfmt="d", dot=36, texts=[text("Acc: 76.79", 13, 167, 27),
                                                       text("(f)", 138, 210, 27, align="center")])
panel_g = curves(g_lap, g_train, g_val, [-12.2, 255], [-.064, 2.036], [0, 50, 100, 150, 200, 250],
                 [0, .25, .5, .75, 1, 1.25, 1.5, 1.75, 2], 382, 251, ".2f", 287, 3, texts=[
                     text("(g) Training without", 49, 307, 27),
                     text("\u2113", 288, 307, 28, font="DejaVu Serif", weight=700),
                     text("Lap", 301, 314, 18, font="DejaVu Serif", weight=400, style="italic")])
panel_h = curves(h_lap, h_train, h_val, [-8.7, 183.8], [-.095, 2.5], [0, 25, 50, 75, 100, 125, 150, 175],
                 [0, .5, 1, 1.5, 2, 2.5], 392, 253, ".1f", 295, 3, texts=[
                     text("(h) Training with", 81, 305, 27),
                     text("\u2113", 279, 305, 28, font="DejaVu Serif", weight=700),
                     text("Lap", 293, 309, 18, font="DejaVu Serif", weight=400, style="italic")])

col1 = stack(spacer(324, 5), row(23, panel_a), spacer(1, 9), row(19, panel_c), spacer(1, 6), row(1, panel_e))
col2 = stack(spacer(369, 4.7), row(21.2, panel_b), spacer(1, 9.3), row(15.4, panel_d), spacer(1, 3.2), row(1, panel_f))
col3 = stack(spacer(1, 42), row(8.3, panel_g), spacer(1, 18.3), row(2.8, panel_h))

chart = alt.hconcat(col1, col2, col3, spacing=0, padding={"left": -8, "top": -13, "right": -4, "bottom": -1}
                    ).resolve_scale(color="independent").configure(background="white")
chart.save("out.html", embed_options={"renderer": "svg", "actions": False})
